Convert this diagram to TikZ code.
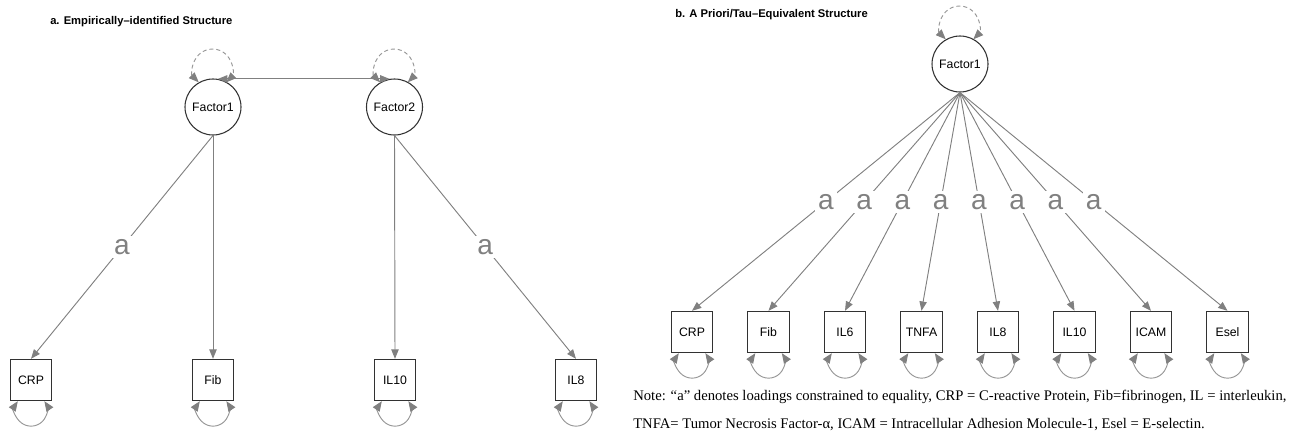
\documentclass[tikz,border=0pt]{standalone}
\usepackage{fontspec}
\setmainfont{Liberation Serif}
\newfontfamily\arial{Liberation Sans}
\usetikzlibrary{arrows.meta,calc}
\definecolor{edgegray}{RGB}{128,128,128}
\definecolor{loopgray}{RGB}{150,150,150}
\definecolor{bordergray}{RGB}{50,50,50}
\begin{document}
\begin{tikzpicture}[x=0.75pt,y=-0.75pt,
  lat/.style={circle,draw=bordergray,line width=0.8pt,minimum size=42pt,inner sep=0pt,
    font=\arial\fontsize{9.2}{10}\selectfont},
  man/.style={rectangle,draw=bordergray,line width=0.8pt,minimum size=31pt,inner sep=0pt,
    font=\arial\fontsize{9.2}{10}\selectfont},
  load/.style={draw=edgegray,line width=0.7pt,-{Triangle[length=7pt,width=5.5pt,color=edgegray]}},
  lab/.style={fill=white,inner sep=2.5pt,text=edgegray,font=\arial\fontsize{21}{22}\selectfont},
  covar/.style={draw=edgegray,line width=0.7pt,
    {Triangle[length=7pt,width=5.5pt,color=edgegray]}-{Triangle[length=7pt,width=5.5pt,color=edgegray]}},
  latloop/.style={draw=loopgray,line width=0.7pt,dash pattern=on 3pt off 2.2pt,
    {Triangle[length=7.5pt,width=6pt,color=edgegray]}-{Triangle[length=7.5pt,width=6pt,color=edgegray]}},
  manloop/.style={draw=loopgray,line width=0.7pt,
    {Triangle[length=7.5pt,width=6pt,color=edgegray]}-{Triangle[length=7.5pt,width=6pt,color=edgegray]}},
  ttl/.style={anchor=west,inner sep=0pt,font=\arial\bfseries\fontsize{8.4}{9}\selectfont},
  note/.style={anchor=base west,inner sep=0pt,font=\fontsize{11}{12}\selectfont}
]
\useasboundingbox (0,0) rectangle (1289,437);

% ---------- panel a ----------
\node[ttl] (ta) at (50,22) {a. Empirically–identified Structure};
\node[lat] (F1) at (213,107) {Factor1};
\node[lat] (F2) at (394.5,107) {Factor2};
\node[man] (aCRP) at (31,380) {CRP};
\node[man] (aFib) at (213,380) {Fib};
\node[man] (aIL10) at (395,380) {IL10};
\node[man] (aIL8) at (576,380) {IL8};

\draw[latloop] (F1.120) arc[start angle=135,end angle=405,radius=19.5];
\draw[latloop] (F2.120) arc[start angle=135,end angle=405,radius=19.5];
\draw[covar] (F1.80) -- (F2.100);

\draw[load] (F1.south) -- node[lab]{a} (aCRP.north);
\draw[load] (F1.south) -- (aFib.north);
\draw[load] (F2.south) -- (aIL10.north);
\draw[load] (F2.south) -- node[lab]{a} (aIL8.north);

\foreach \n in {aCRP,aFib,aIL10,aIL8}{
  \draw[manloop] ($(\n.south)+(-13.2,0)$) arc[start angle=214,end angle=-34,radius=16];
}

% ---------- panel b ----------
\node[ttl] (tb) at (675,15) {b. A Priori/Tau–Equivalent Structure};
\node[lat] (G) at (960,64) {Factor1};
\draw[latloop] (G.120) arc[start angle=135,end angle=405,radius=19.5];

\node[man] (bCRP)  at (692,332) {CRP};
\node[man] (bFib)  at (768.5,332) {Fib};
\node[man] (bIL6)  at (845,332) {IL6};
\node[man] (bTNFA) at (921.5,332) {TNFA};
\node[man] (bIL8)  at (998,332) {IL8};
\node[man] (bIL10) at (1074.5,332) {IL10};
\node[man] (bICAM) at (1151,332) {ICAM};
\node[man] (bEsel) at (1227.5,332) {Esel};

\foreach \n in {bCRP,bFib,bIL6,bTNFA,bIL8,bIL10,bICAM,bEsel}{
  \draw[load] (G.south) -- node[lab]{a} (\n.north);
  \draw[manloop] ($(\n.south)+(-13.2,0)$) arc[start angle=214,end angle=-34,radius=16];
}

\node[note] (n1) at (633,400) {Note: “a” denotes loadings constrained to equality, CRP = C-reactive Protein, Fib=fibrinogen, IL = interleukin,};
\node[note] (n2) at (633,428) {TNFA= Tumor Necrosis Factor-α, ICAM = Intracellular Adhesion Molecule-1, Esel = E-selectin.};
\end{tikzpicture}
\end{document}
